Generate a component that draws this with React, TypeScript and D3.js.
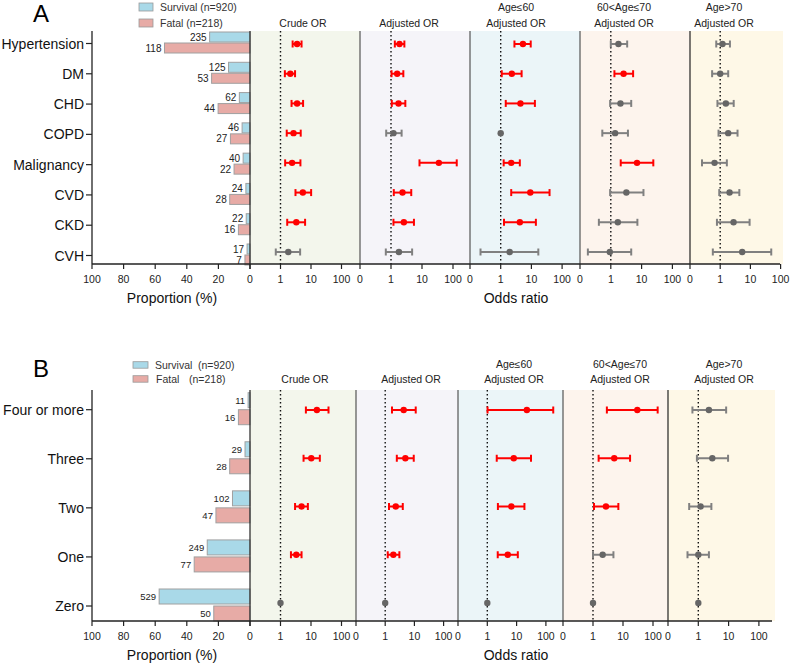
import * as d3 from 'd3'

// ---------- data ----------
const nSurv = 920
const nFatal = 218

const catsA = ['Hypertension', 'DM', 'CHD', 'COPD', 'Malignancy', 'CVD', 'CKD', 'CVH']
const survA = [235, 125, 62, 46, 40, 24, 22, 17]
const fatalA = [118, 53, 44, 27, 22, 28, 16, 7]

// [OR, lower, upper]; lower/upper null = reference point only
const crudeA = [[3.5, 2.5, 4.9], [2.1, 1.39, 3.0], [3.5, 2.3, 5.5], [2.67, 1.6, 4.6], [2.4, 1.42, 4.5], [5.4, 3.1, 10.1], [3.3, 1.66, 6.4], [1.8, 0.7, 4.4]]
const adjA = [[1.88, 1.33, 2.7], [1.58, 1.04, 2.5], [1.75, 1.06, 2.9], [1.2, 0.7, 2.2], [35, 8.3, 132], [2.35, 1.23, 4.5], [2.6, 1.2, 5.5], [1.8, 0.68, 4.8]]
const age60A = [[5.3, 2.8, 9.5], [2.3, 1.08, 4.8], [4.4, 1.46, 13], [1.0, null, null], [2.2, 1.25, 4.2], [9.2, 2.2, 39], [4.2, 1.28, 14], [1.96, 0.22, 16.8]]
const age6070A = [[1.77, 1.0, 3.4], [2.6, 1.31, 5.3], [2.06, 0.95, 4.6], [1.38, 0.53, 3.6], [7.1, 2.1, 24], [3.2, 0.95, 11.5], [1.69, 0.41, 7.3], [0.93, 0.18, 4.6]]
const age70A = [[1.19, 0.74, 2.1], [1.0, 0.54, 1.84], [1.54, 0.81, 2.8], [1.84, 0.88, 3.75], [0.65, 0.25, 1.66], [2.04, 0.93, 4.3], [2.77, 0.78, 9.4], [5.35, 0.57, 49]]

const catsB = ['Four or more', 'Three', 'Two', 'One', 'Zero']
const survB = [11, 29, 102, 249, 529]
const fatalB = [16, 28, 47, 77, 50]

const crudeB = [[15.6, 6.8, 37.5], [10.2, 5.7, 19.5], [4.9, 3.0, 7.9], [3.3, 2.2, 4.9], [1.0, null, null]]
const adjB = [[4.3, 1.71, 11.1], [4.9, 2.5, 9.5], [2.3, 1.35, 4.0], [1.9, 1.22, 3.06], [1.0, null, null]]
const age60B = [[22.4, 1.02, 178], [8.0, 2.1, 31], [6.6, 2.3, 18.5], [5.0, 2.27, 11], [1.0, null, null]]
const age6070B = [[30, 2.9, 143], [5.1, 1.54, 17.2], [2.7, 1.08, 7.0], [2.1, 1.0, 4.8], [1.0, null, null]]
const age70B = [[2.24, 0.64, 8.3], [2.9, 0.9, 9.6], [1.19, 0.5, 2.7], [1.0, 0.44, 2.24], [1.0, null, null]]

const headerTop = ['', '', 'Age≤60', '60<Age≤70', 'Age>70']
const headerBottom = ['Crude OR', 'Adjusted OR', 'Adjusted OR', 'Adjusted OR', 'Adjusted OR']
const propTicks = [100, 80, 60, 40, 20, 0]
const orTicks = [0.1, 1, 10, 100]
const orTickLabels = ['0', '1', '10', '100']

// ---------- style ----------
const FONT = "Arial, 'Liberation Sans', sans-serif"
const panelBg = ['#f3f6ec', '#f5f4f9', '#ebf5f8', '#fdf4ed', '#fef8e7']
const blue = '#a9d9e8'
const pink = '#e7aba6'
const red = '#ff0000'
const grayDot = '#666666'
const grayLine = '#808080'

const layoutA = {
  letter: 'A', letterY: 22,
  legendRect: { x: 139, w: 14, h: 8, y: [3, 19] }, legendTextX: 160, legendWide: false,
  top: 31, axisY: 264, barRange: [42.5, 254.5], dotRange: [44, 252], barH: 10, barGap: 0.5, labelFont: 10,
  starts: [250, 360, 470, 580, 690], end: 783, decades: [30.5, 31, 30.7, 30.8, 30.2],
  headerX: [303, 409, 516, 624, 724], headerY: [7, 23],
}
const layoutB = {
  letter: 'B', letterY: 377,
  legendRect: { x: 133, w: 15, h: 6.5, y: [361.7, 375.7] }, legendTextX: 155, legendWide: true,
  top: 390, axisY: 621, barRange: [408.7, 605], dotRange: [410, 603], barH: 15, barGap: 1, labelFont: 9.5,
  starts: [250, 356, 458, 563, 668], end: 775, decades: [30.5, 29.2, 29.3, 30, 30.3],
  headerX: [305, 411, 514, 620, 724], headerY: [364, 379],
}

function Figure({ cats, surv, fatal, panels, L }) {
  const xProp = d3.scaleLinear().domain([100, 0]).range([92, 250])
  const yBar = d3.scalePoint().domain(cats).range(L.barRange)
  const yDot = d3.scalePoint().domain(cats).range(L.dotRange)
  const ends = L.starts.slice(1).concat([L.end])
  const scales = L.starts.map((s, i) => {
    const w = ends[i] - s
    return d3.scaleLog().domain([0.1, Math.pow(10, w / L.decades[i] - 1)]).range([s, ends[i]])
  })
  const y0 = L.top
  const yA = L.axisY

  return (
    <g fontFamily={FONT}>
      <text x={33} y={L.letterY} fontSize={24}>{L.letter}</text>

      {/* legend */}
      <rect x={L.legendRect.x} y={L.legendRect.y[0]} width={L.legendRect.w} height={L.legendRect.h} fill={blue} stroke="#9a9a9a" strokeWidth={0.8} />
      <rect x={L.legendRect.x} y={L.legendRect.y[1]} width={L.legendRect.w} height={L.legendRect.h} fill={pink} stroke="#9a9a9a" strokeWidth={0.8} />
      {L.legendWide ? (
        <g fontSize={10.5} fill="#333" dominantBaseline="central">
          <text x={L.legendTextX} y={L.legendRect.y[0] + L.legendRect.h / 2}>Survival</text>
          <text x={198} y={L.legendRect.y[0] + L.legendRect.h / 2}>{`(n=${nSurv})`}</text>
          <text x={L.legendTextX + 1} y={L.legendRect.y[1] + L.legendRect.h / 2}>Fatal</text>
          <text x={189} y={L.legendRect.y[1] + L.legendRect.h / 2}>{`(n=${nFatal})`}</text>
        </g>
      ) : (
        <g fontSize={10.5} fill="#333" dominantBaseline="central">
          <text x={L.legendTextX} y={L.legendRect.y[0] + L.legendRect.h / 2}>{`Survival (n=${nSurv})`}</text>
          <text x={L.legendTextX} y={L.legendRect.y[1] + L.legendRect.h / 2}>{`Fatal (n=${nFatal})`}</text>
        </g>
      )}

      {/* panel backgrounds */}
      {L.starts.map((s, i) => (
        <rect key={'bg' + i} x={s} y={y0} width={ends[i] - s} height={yA - y0} fill={panelBg[i]} />
      ))}

      {/* proportion bars */}
      {cats.map((c, i) => {
        const cy = yBar(c)
        const ps = (surv[i] / nSurv) * 100
        const pf = (fatal[i] / nFatal) * 100
        const xs = xProp(ps)
        const xf = xProp(pf)
        return (
          <g key={'bar' + c}>
            <rect x={xs} y={cy - L.barGap - L.barH} width={250 - xs} height={L.barH} fill={blue} stroke="#a0a0a0" strokeWidth={1} />
            <rect x={xf} y={cy + L.barGap} width={250 - xf} height={L.barH} fill={pink} stroke="#a0a0a0" strokeWidth={1} />
            <text x={xs - 3} y={cy - L.barGap - L.barH / 2} fontSize={L.labelFont} textAnchor="end" dominantBaseline="central" fill="#222">{surv[i]}</text>
            <text x={xf - 3} y={cy + L.barGap + L.barH / 2} fontSize={L.labelFont} textAnchor="end" dominantBaseline="central" fill="#222">{fatal[i]}</text>
          </g>
        )
      })}

      {/* left axis */}
      <line x1={92} x2={92} y1={y0} y2={yA} stroke="#222" strokeWidth={1.3} />
      {cats.map((c) => (
        <g key={'yt' + c}>
          <line x1={86} x2={92} y1={yBar(c) + 1} y2={yBar(c) + 1} stroke="#222" strokeWidth={1.2} />
          <text x={84} y={yBar(c) + 1} fontSize={14} textAnchor="end" dominantBaseline="central" fill="#111">{c}</text>
        </g>
      ))}

      {/* panel separators */}
      {L.starts.map((s, i) => (
        <line key={'sep' + i} x1={s} x2={s} y1={y0} y2={yA} stroke={i === 0 || i === 4 ? '#222' : '#555'} strokeWidth={1.2} />
      ))}

      {/* forest panels */}
      {panels.map((rows, p) => {
        const x = scales[p]
        return (
          <g key={'p' + p}>
            <line x1={x(1)} x2={x(1)} y1={y0} y2={yA} stroke="#111" strokeWidth={1.4} strokeDasharray="1.4 2.6" />
            {rows.map((r, i) => {
              const cy = yDot(cats[i])
              const [or, lo, hi] = r
              const sig = lo != null && (lo > 1 || hi < 1)
              const lc = sig ? red : grayLine
              return (
                <g key={'r' + i}>
                  {lo != null && (
                    <g stroke={lc} strokeWidth={2}>
                      <line x1={x(lo)} x2={x(hi)} y1={cy} y2={cy} />
                      <line x1={x(lo)} x2={x(lo)} y1={cy - 3.5} y2={cy + 3.5} />
                      <line x1={x(hi)} x2={x(hi)} y1={cy - 3.5} y2={cy + 3.5} />
                    </g>
                  )}
                  <circle cx={x(or)} cy={cy} r={3.2} fill={sig ? red : grayDot} />
                </g>
              )
            })}
            {/* headers */}
            {headerTop[p] && (
              <text x={L.headerX[p]} y={L.headerY[0]} fontSize={10.5} textAnchor="middle" dominantBaseline="central" fill="#222">{headerTop[p]}</text>
            )}
            <text x={L.headerX[p]} y={L.headerY[1]} fontSize={10.5} textAnchor="middle" dominantBaseline="central" fill="#222">{headerBottom[p]}</text>
            {/* ticks */}
            {orTicks.map((t, k) => (
              <g key={'t' + k}>
                <line x1={x(t)} x2={x(t)} y1={yA} y2={yA + 5} stroke="#222" strokeWidth={1.2} />
                {!(p === 0 && k === 0) && (
                  <text x={x(t)} y={yA + 15} fontSize={10.5} textAnchor="middle" dominantBaseline="central" fill="#222">{orTickLabels[k]}</text>
                )}
              </g>
            ))}
          </g>
        )
      })}

      {/* bottom axis */}
      <line x1={92} x2={L.end - 3} y1={yA} y2={yA} stroke="#222" strokeWidth={1.4} />
      {propTicks.map((t) => (
        <g key={'pt' + t}>
          <line x1={xProp(t)} x2={xProp(t)} y1={yA} y2={yA + 5} stroke="#222" strokeWidth={1.2} />
          <text x={xProp(t)} y={yA + 15} fontSize={10.5} textAnchor="middle" dominantBaseline="central" fill="#222">{t}</text>
        </g>
      ))}
      <text x={172} y={yA + 34} fontSize={14} textAnchor="middle" dominantBaseline="central" fill="#111">Proportion (%)</text>
      <text x={516} y={yA + 34} fontSize={14} textAnchor="middle" dominantBaseline="central" fill="#111">Odds ratio</text>
    </g>
  )
}

export default function App() {
  return (
    <svg width={791} height={664} style={{ position: 'absolute', left: 0, top: 0, background: '#fff' }}>
      <rect width={791} height={664} fill="#fff" />
      <Figure cats={catsA} surv={survA} fatal={fatalA} panels={[crudeA, adjA, age60A, age6070A, age70A]} L={layoutA} />
      <Figure cats={catsB} surv={survB} fatal={fatalB} panels={[crudeB, adjB, age60B, age6070B, age70B]} L={layoutB} />
    </svg>
  )
}
